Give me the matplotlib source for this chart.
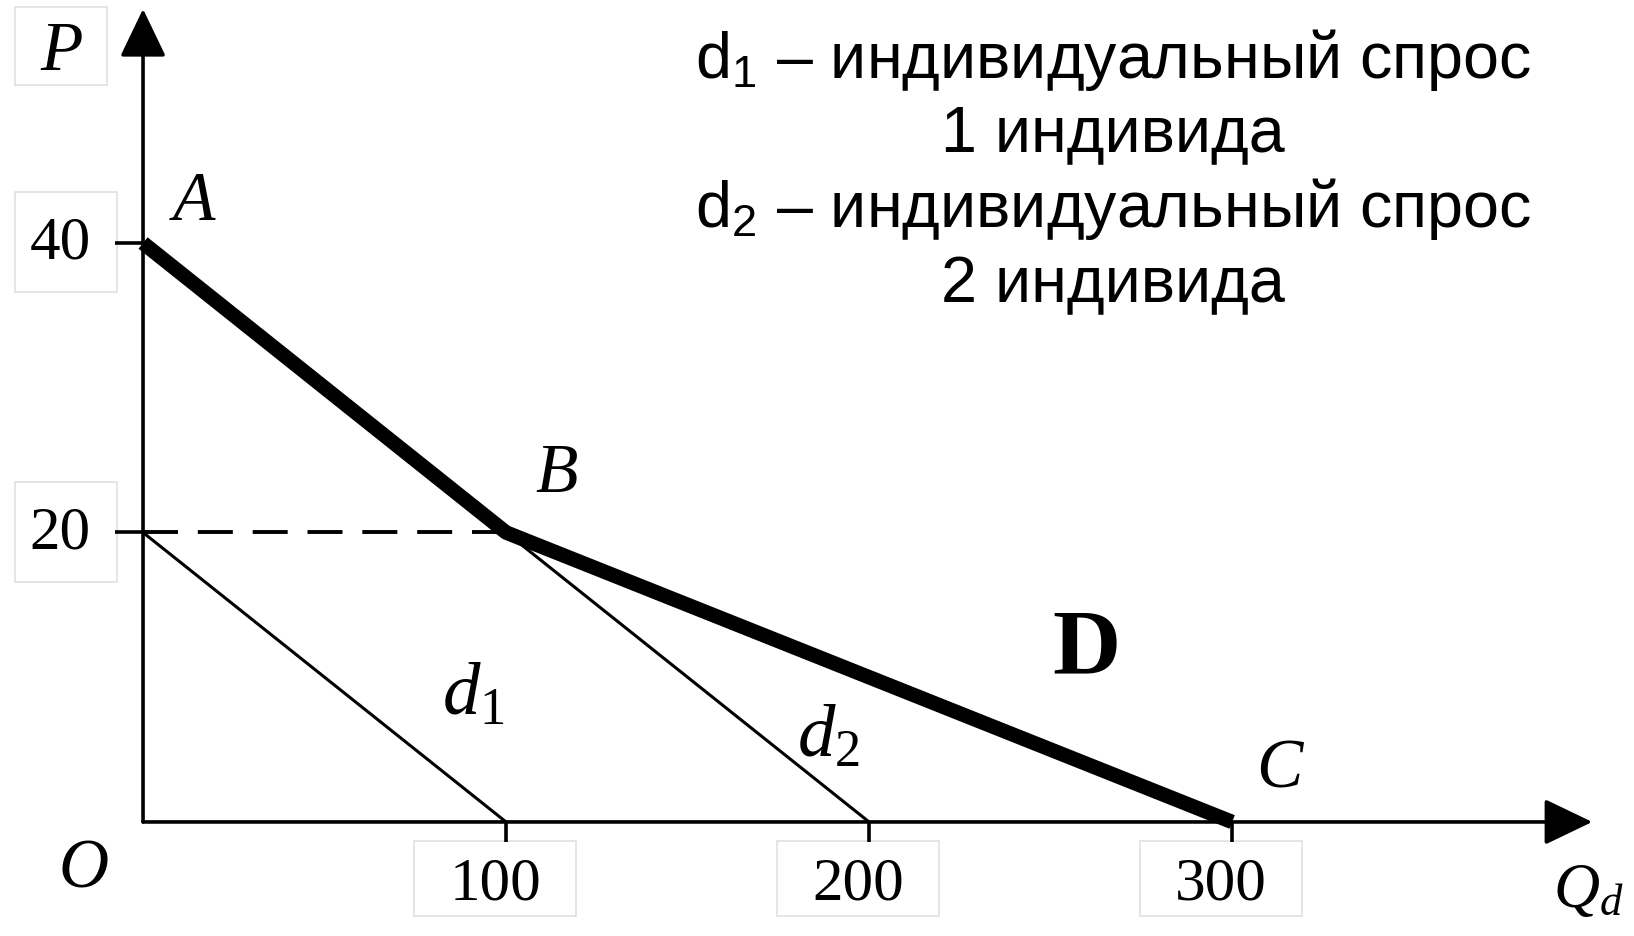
import numpy as np
import matplotlib.pyplot as plt
from matplotlib.patches import Rectangle

plt.rcParams['mathtext.fontset'] = 'custom'
plt.rcParams['mathtext.rm'] = 'Liberation Serif'
plt.rcParams['mathtext.it'] = 'Liberation Serif:italic'
plt.rcParams['mathtext.bf'] = 'Liberation Serif:bold'
plt.rcParams['mathtext.sf'] = 'Liberation Sans'

# Market demand D = d1 + d2, kinked at B
market_q = [0, 100, 300]
market_p = [40, 20, 0]
point_names = ['A', 'B', 'C']

# Individual demand curves
d1_q = [0, 100]
d1_p = [20, 0]
d2_q = [0, 200]
d2_p = [40, 0]

price_ticks = [20, 40]
qty_ticks = [100, 200, 300]

note_lines = [r'$\mathsf{d}_\mathsf{1}$ – индивидуальный спрос',
              '1 индивида',
              r'$\mathsf{d}_\mathsf{2}$ – индивидуальный спрос',
              '2 индивида']

serif = 'Liberation Serif'
box_ec = '#e0e0e0'

fig = plt.figure(figsize=(16.34, 9.37), dpi=100)
ax = fig.add_axes([0, 0, 1, 1])
ax.set_xlim(-39.4, 410.7)
ax.set_ylim(-7.88, 56.86)
ax.axis('off')

def label_box(x0, y0, w, h):
    ax.add_patch(Rectangle((x0, y0), w, h, fc='white', ec=box_ec, lw=1.2, zorder=0))

# axes with arrows
arrow = dict(arrowstyle='-|>,head_length=3.0,head_width=1.44', mutation_scale=10,
             lw=2.6, color='black', shrinkA=0, shrinkB=0)
ax.annotate('', xy=(0, 56.17), xytext=(0, 0), arrowprops=arrow)
ax.annotate('', xy=(399.2, 0), xytext=(0, 0), arrowprops=arrow)

# ticks
for p in price_ticks:
    ax.plot([-7.7, 0], [p, p], color='black', lw=2.6, solid_capstyle='butt')
    label_box(-35.2, p - 3.4, 28.0, 6.9)
    ax.text(-22.9, p, str(p), fontsize=44, family=serif, ha='center', va='center')
for q in qty_ticks:
    ax.plot([q, q], [0, -1.4], color='black', lw=2.6, solid_capstyle='butt')
    label_box(q - 25.3, -6.5, 44.6, 5.2)
    ax.text(q - 3, -4.3, str(q), fontsize=44, family=serif, ha='center', va='center')

# individual demand
ax.plot(d1_q, d1_p, color='black', lw=2.2)
ax.plot(d2_q, d2_p, color='black', lw=2.2)
ax.plot([0, market_q[1]], [market_p[1], market_p[1]], color='black', lw=2.8, dashes=(9, 5.1))

# market demand
ax.plot(market_q, market_p, color='black', lw=10.5, solid_joinstyle='round', solid_capstyle='butt')

# labels
label_pos = [(14.0, 42.8), (114.0, 24.0), (313.0, 3.6)]
for name, (lq, lp) in zip(point_names, label_pos):
    ax.text(lq, lp, name, fontsize=50, family=serif, style='italic', ha='center', va='center')

ax.text(260, 11.9, 'D', fontsize=68, family=serif, weight='bold', ha='center', va='center')
ax.text(82.4, 7.46, r'$\mathit{d}_\mathrm{1}$', fontsize=54, ha='left', va='baseline')
ax.text(180.2, 4.56, r'$\mathit{d}_\mathrm{2}$', fontsize=54, ha='left', va='baseline')
ax.text(-16.3, -3.3, 'O', fontsize=50, family=serif, style='italic', ha='center', va='center')
ax.text(388.5, -5.8, r'$Q_d$', fontsize=46, ha='left', va='baseline')
label_box(-35.3, 50.9, 25.4, 5.4)
ax.text(-22.3, 52.0, 'P', fontsize=50, family=serif, style='italic', ha='center', va='baseline')

# note
for line, base in zip(note_lines, [51.47, 46.43, 41.18, 36.00]):
    ax.text(267.2, base, line, fontsize=46.5, family='Liberation Sans', ha='center', va='baseline')

fig.savefig('out.png', dpi=100, facecolor='white')
